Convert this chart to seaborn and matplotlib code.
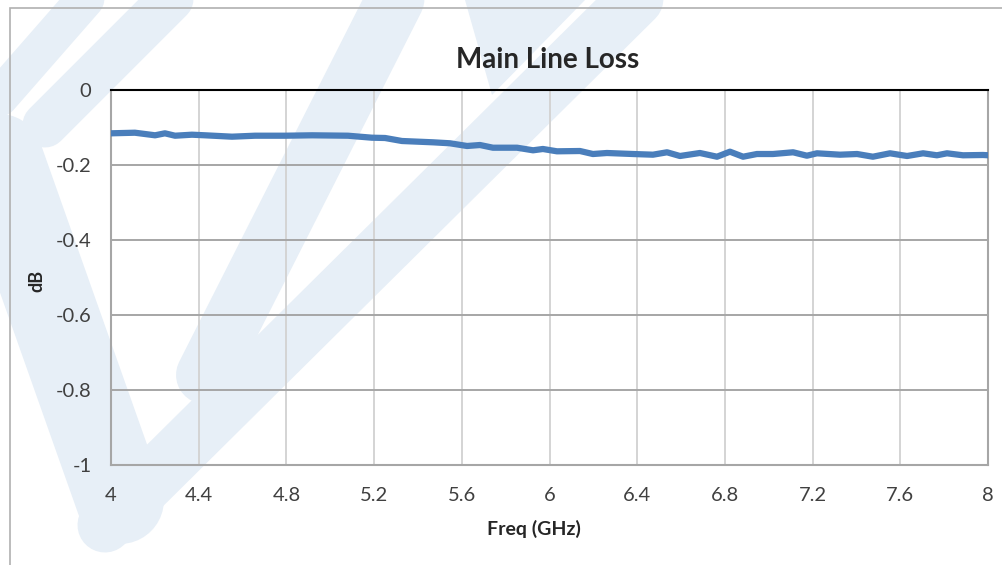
import numpy as np
import pandas as pd
import matplotlib
matplotlib.use("Agg")
import matplotlib.pyplot as plt
import seaborn as sns
from matplotlib.lines import Line2D
from matplotlib.patches import Rectangle, Polygon

# ---- data ----
freq_ghz = [4.000, 4.109, 4.201, 4.246, 4.292, 4.369, 4.429, 4.552, 4.657, 4.794,
            4.917, 5.081, 5.190, 5.250, 5.327, 5.469, 5.546, 5.624, 5.683, 5.742,
            5.852, 5.925, 5.970, 6.034, 6.139, 6.198, 6.262, 6.381, 6.472, 6.536,
            6.595, 6.686, 6.764, 6.823, 6.883, 6.946, 7.019, 7.111, 7.174, 7.220,
            7.325, 7.403, 7.475, 7.553, 7.631, 7.704, 7.767, 7.813, 7.886, 7.977,
            8.000]
loss_db = [-0.1155, -0.1139, -0.1208, -0.1155, -0.1219, -0.1192, -0.1208, -0.1245, -0.1219, -0.1219,
           -0.1208, -0.1219, -0.1272, -0.1280, -0.1360, -0.1395, -0.1421, -0.1493, -0.1467, -0.1539,
           -0.1539, -0.1608, -0.1573, -0.1635, -0.1627, -0.1707, -0.1680, -0.1707, -0.1725, -0.1661,
           -0.1760, -0.1680, -0.1779, -0.1645, -0.1779, -0.1707, -0.1707, -0.1661, -0.1752, -0.1688,
           -0.1725, -0.1707, -0.1779, -0.1688, -0.1760, -0.1688, -0.1741, -0.1688, -0.1741, -0.1733,
           -0.1740]
x_ticks = [4, 4.4, 4.8, 5.2, 5.6, 6, 6.4, 6.8, 7.2, 7.6, 8]
x_tick_labels = ["4", "4.4", "4.8", "5.2", "5.6", "6", "6.4", "6.8", "7.2", "7.6", "8"]
y_ticks = [0, -0.2, -0.4, -0.6, -0.8, -1]
y_tick_labels = ["0", "-0.2", "-0.4", "-0.6", "-0.8", "-1"]
title = "Main Line Loss"
x_label = "Freq (GHz)"
y_label = "dB"

df = pd.DataFrame({"Freq": freq_ghz, "dB": loss_db})

sns.set_theme(style="white")
plt.rcParams["font.family"] = ["Lato", "DejaVu Sans"]

W, H = 1002, 565
fig = plt.figure(figsize=(W / 100, H / 100), dpi=100)
fig.patch.set_facecolor("white")

def fx(x):
    return x / W

def fy(y):
    return 1 - y / H

# ---- faint watermark (decoration) ----
wm = "#e7eff7"
bands = [
    ((105, 525), (645, -10), 55),
    ((205, 375), (400, -10), 58),
    ((-25, 90), (120, 500), 88),
    ((95, -12), (-10, 108), 38),
    ((180, -10), (45, 125), 45),
]
for (x0, y0), (x1, y1), w in bands:
    fig.add_artist(Line2D([fx(x0), fx(x1)], [fy(y0), fy(y1)], transform=fig.transFigure,
                          color=wm, lw=w * 0.72, solid_capstyle="round", zorder=-2))
fig.add_artist(Polygon([(fx(465), fy(0)), (fx(585), fy(0)), (fx(492), fy(95))],
                       closed=True, transform=fig.transFigure, facecolor=wm,
                       edgecolor="none", zorder=-2))

# chart frame
fig.add_artist(Rectangle((fx(10), -0.05), 1.1, fy(8) + 0.05, transform=fig.transFigure,
                         fill=False, edgecolor="#b0b0b0", lw=1.2, zorder=-1))

ax = fig.add_axes([fx(111), fy(465), fx(988) - fx(111), fy(90) - fy(465)])
ax.patch.set_alpha(0)

sns.lineplot(data=df, x="Freq", y="dB", ax=ax, color="#4a7ebb", lw=4.5, zorder=5)

ax.set_xlim(4, 8)
ax.set_ylim(-1, 0)
ax.set_xticks(x_ticks)
ax.set_xticklabels(x_tick_labels)
ax.set_yticks(y_ticks)
ax.set_yticklabels(y_tick_labels)

for xv in x_ticks[1:-1]:
    ax.axvline(xv, color="#d4d4d4", lw=1.4, zorder=1)
for yv in y_ticks[1:-1]:
    ax.axhline(yv, color="#a6a6a6", lw=1.4, zorder=1)

for s in ["left", "bottom", "right"]:
    ax.spines[s].set_color("#a6a6a6")
    ax.spines[s].set_linewidth(1.5)
ax.spines["top"].set_color("black")
ax.spines["top"].set_linewidth(1.5)

ax.tick_params(axis="both", length=0, labelsize=14.5, colors="#404040")
ax.tick_params(axis="x", pad=16)
ax.tick_params(axis="y", pad=14)
for lbl in ax.get_xticklabels() + ax.get_yticklabels():
    lbl.set_color("#404040")

ax.set_xlabel(x_label, fontsize=14, fontweight="bold", color="#262626")
ax.xaxis.set_label_coords((534 - 111) / 877, (465 - 529) / 375)
ax.xaxis.label.set_va("center")
ax.set_ylabel(y_label, fontsize=13, fontweight="bold", color="#262626")
ax.yaxis.set_label_coords((37 - 111) / 877, 0.49)
ax.yaxis.label.set_va("center")

fig.text(fx(548), fy(60), title, ha="center", va="center", fontsize=20,
         fontweight="bold", color="#262626")

fig.savefig("out.png", dpi=100)
